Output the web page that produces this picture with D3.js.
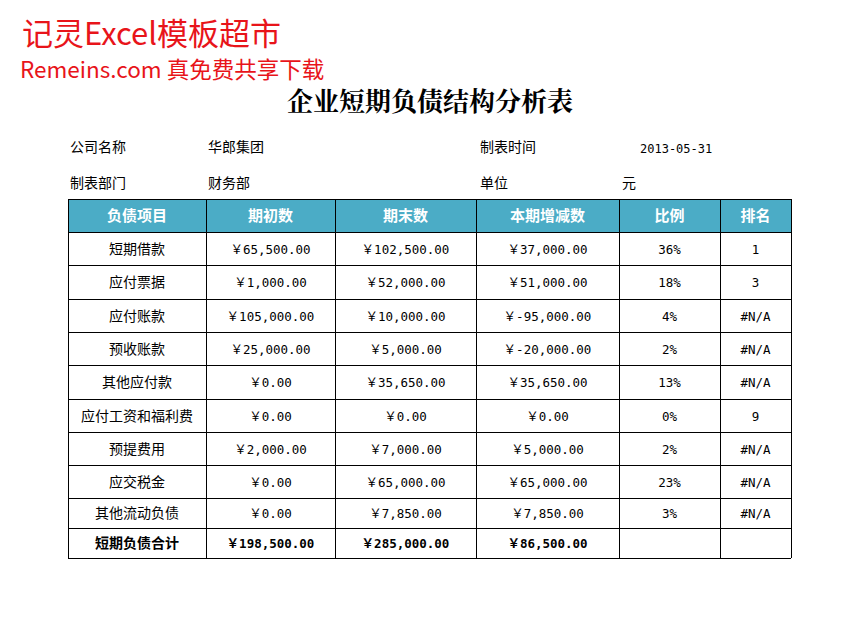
<!DOCTYPE html><html><head><meta charset="utf-8"><script src="https://cdn.jsdelivr.net/npm/d3@7"></script>
<style>body{margin:0;background:#fff}</style></head><body><svg id="c" width="860" height="630"></svg>
<script>
const headers=["负债项目","期初数","期末数","本期增减数","比例","排名"];
const items=["短期借款","应付票据","应付账款","预收账款","其他应付款","应付工资和福利费","预提费用","应交税金","其他流动负债","短期负债合计"];
const opening=["￥65,500.00","￥1,000.00","￥105,000.00","￥25,000.00","￥0.00","￥0.00","￥2,000.00","￥0.00","￥0.00","￥198,500.00"];
const closing=["￥102,500.00","￥52,000.00","￥10,000.00","￥5,000.00","￥35,650.00","￥0.00","￥7,000.00","￥65,000.00","￥7,850.00","￥285,000.00"];
const change=["￥37,000.00","￥51,000.00","￥-95,000.00","￥-20,000.00","￥35,650.00","￥0.00","￥5,000.00","￥65,000.00","￥7,850.00","￥86,500.00"];
const ratio=["36%","18%","4%","2%","13%","0%","2%","23%","3%",""];
const rank=["1","3","#N/A","#N/A","#N/A","9","#N/A","#N/A","#N/A",""];
const colEdges=[68,206,335,476,619,720,791];
const rowEdges=[199,232,265,299,332,365,399,432,465,498,528,558];
const svg=d3.select("#c");
const cjk="'Noto Sans CJK SC',sans-serif", mono="'DejaVu Sans Mono','Noto Sans CJK SC',monospace";
svg.append("text").attr("x",22).attr("y",45).attr("fill","#e8141a").attr("font-family",cjk).attr("font-size",31).text("记灵Excel模板超市");
svg.append("text").attr("x",20).attr("y",78).attr("fill","#e8141a").attr("font-family",cjk).attr("font-size",22.5).text("Remeins.com 真免费共享下载");
svg.append("text").attr("x",430).attr("y",111).attr("text-anchor","middle").attr("font-family","'Noto Serif CJK SC','Noto Sans CJK SC',serif").attr("font-weight","bold").attr("font-size",26).text("企业短期负债结构分析表");
const meta=[[70,152,"公司名称"],[208,152,"华郎集团"],[480,152,"制表时间"],[640,153,"2013-05-31"],[70,188,"制表部门"],[208,188,"财务部"],[480,188,"单位"],[622,188,"元"]];
svg.selectAll("text.m").data(meta).join("text").attr("x",d=>d[0]).attr("y",d=>d[1]).attr("font-family",d=>d[2].match(/^\d/)?mono:cjk).attr("font-size",d=>d[2].match(/^\d/)?12:14).text(d=>d[2]);
svg.append("rect").attr("x",colEdges[0]).attr("y",rowEdges[0]).attr("width",colEdges[6]-colEdges[0]).attr("height",rowEdges[1]-rowEdges[0]).attr("fill","#4bacc6");
const cols=[items,opening,closing,change,ratio,rank];
for(let c=0;c<6;c++){
 const cx=(colEdges[c]+colEdges[c+1])/2;
 svg.append("text").attr("x",cx).attr("y",(rowEdges[0]+rowEdges[1])/2+5).attr("text-anchor","middle").attr("fill","#fff").attr("font-weight","bold").attr("font-family",cjk).attr("font-size",15).text(headers[c]);
 cols[c].forEach((v,r)=>{
  svg.append("text").attr("x",cx).attr("y",(rowEdges[r+1]+rowEdges[r+2])/2+5).attr("text-anchor","middle").attr("font-family",c==0?cjk:mono).attr("font-size",c==0?14:12.5).attr("font-weight",r==9?"bold":"normal").text(v);
 });
}
const g=svg.append("g").attr("stroke","#000").attr("stroke-width",1);
rowEdges.forEach(y=>g.append("line").attr("x1",colEdges[0]).attr("x2",colEdges[6]).attr("y1",y+.5).attr("y2",y+.5));
colEdges.forEach(x=>g.append("line").attr("x1",x+.5).attr("x2",x+.5).attr("y1",rowEdges[0]).attr("y2",rowEdges[11]));
</script></body></html>
